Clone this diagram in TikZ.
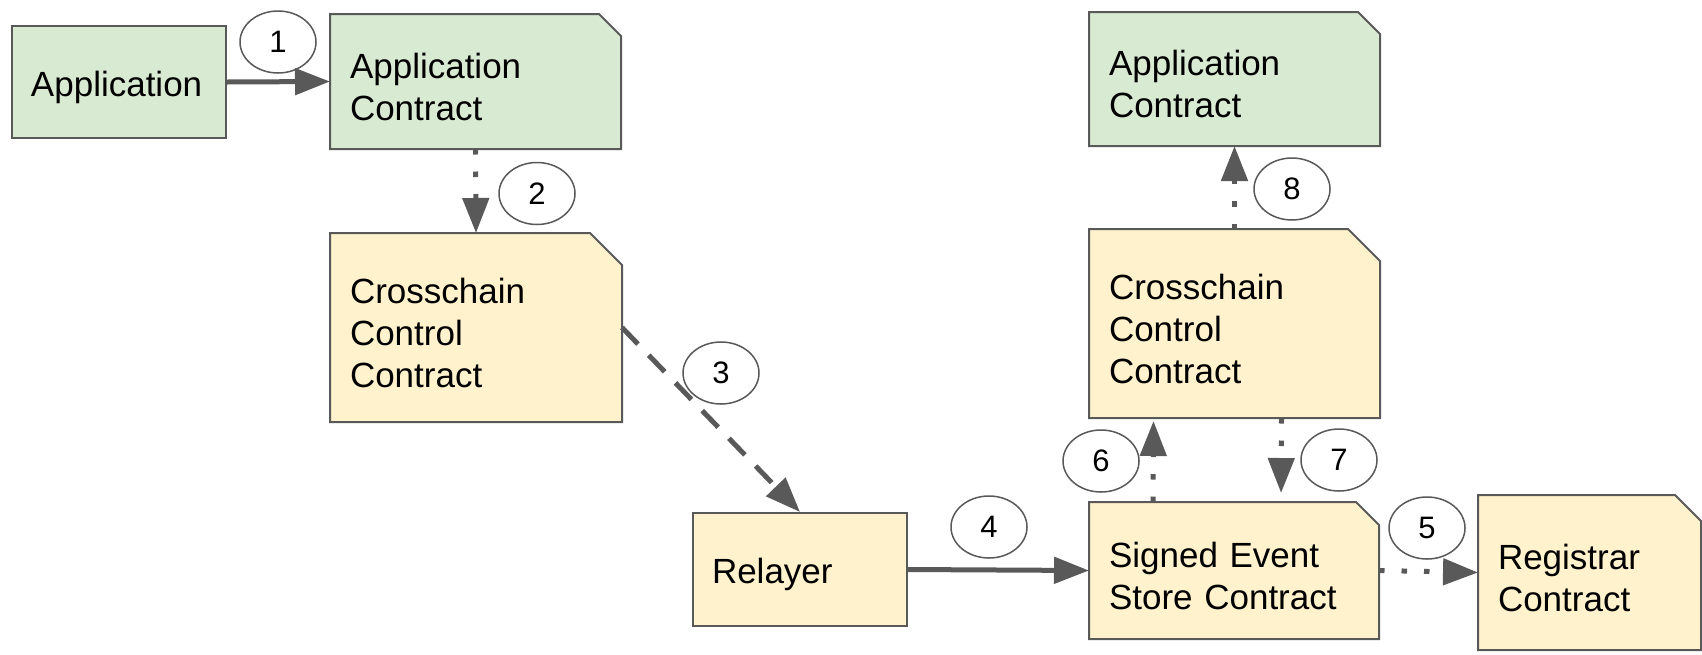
\documentclass[tikz,border=0pt]{standalone}
\usepackage{fontspec}
\setmainfont{Liberation Sans}
\usetikzlibrary{shapes.geometric, arrows.meta, backgrounds}
\definecolor{linegray}{HTML}{595959}
\definecolor{appgreen}{HTML}{D9EAD3}
\definecolor{ctryellow}{HTML}{FFF2CC}
\tikzset{
  blk/.style={rectangle, line width=1pt, inner xsep=9.5pt, inner ysep=0pt, align=left, text height=18pt,
    font=\fontsize{17.5pt}{21pt}\selectfont},
  plain/.style={blk, draw=linegray},
  app/.style={fill=appgreen},
  ctr/.style={fill=ctryellow},
  step num/.style={ellipse, draw=linegray, line width=0.75pt, fill=white, minimum width=38pt,
    minimum height=31pt, inner sep=0pt, font=\fontsize{15.5pt}{17pt}\selectfont}
}
\tikzstyle{arrow} = [draw=linegray, line width=2.5pt, ->]
\tikzstyle{dotarrow} = [arrow, dash pattern=on 2.75pt off 8.5pt]
\tikzstyle{dasharrow} = [arrow, dash pattern=on 11.5pt off 7.75pt]
% box with the top right corner snipped off: node, cut, fill
\newcommand{\snipbox}[3]{%
  \filldraw [#3, draw=linegray, line width=1pt] (#1.south west) -- (#1.north west)
    -- ([xshift=-#2]#1.north east) -- ([yshift=-#2]#1.north east) -- (#1.south east) -- cycle;}
\begin{document}
\begin{tikzpicture}[x=0.5pt, y=-0.5pt, >={Triangle[length=17.5pt,width=13pt]}]
    \useasboundingbox (0,0) rectangle (1702,654);
    % source chain
    \node [plain, app, minimum width=107pt, minimum height=56pt, text width=88pt] (appl) at (119,82) {Application};
    \node [blk, minimum width=144.5pt, minimum height=66.5pt, text width=125.5pt] (srcapp) at (475.5,81.5) {Application\\Contract};
    \node [blk, minimum width=145pt, minimum height=93.5pt, text width=126pt] (srcccc) at (476,327.5) {Crosschain\\Control\\Contract};
    \node [plain, ctr, minimum width=107pt, minimum height=56.5pt, text width=88pt] (relayer) at (800,569.5) {Relayer};
    % destination chain
    \node [blk, minimum width=144pt, minimum height=67.5pt, text width=125pt] (store) at (1234,570.5) {Signed Event\\Store Contract};
    \node [blk, minimum width=110.5pt, minimum height=76.5pt, text width=91.5pt] (registrar) at (1589.5,572.5) {Registrar\\Contract};
    \node [blk, minimum width=144.5pt, minimum height=93.5pt, text width=125.5pt] (dstccc) at (1234.5,323.5) {Crosschain\\Control\\Contract};
    \node [blk, minimum width=144.5pt, minimum height=66pt, text width=125.5pt] (dstapp) at (1234.5,79) {Application\\Contract};

    \begin{scope}[on background layer]
      \snipbox{srcapp}{11pt}{appgreen}
      \snipbox{srcccc}{16pt}{ctryellow}
      \snipbox{store}{11.5pt}{ctryellow}
      \snipbox{registrar}{13pt}{ctryellow}
      \snipbox{dstccc}{16pt}{ctryellow}
      \snipbox{dstapp}{11pt}{appgreen}
    \end{scope}

    % step numbers
    \node [step num] (s1) at (278,42) {1};
    \node [step num] (s2) at (537,193.5) {2};
    \node [step num] (s3) at (721,373) {3};
    \node [step num] (s4) at (989,527) {4};
    \node [step num] (s5) at (1427,528) {5};
    \node [step num] (s6) at (1101,461) {6};
    \node [step num] (s7) at (1339,460) {7};
    \node [step num] (s8) at (1292,189) {8};

    \draw [arrow] (appl.east) -- (srcapp.west);
    \draw [dotarrow] (srcapp.south) -- (srcccc.north);
    \draw [dasharrow] (srcccc.east) -- (relayer.north);
    \draw [arrow] (relayer.east) -- (store.west);
    \draw [dotarrow] (store.east) -- (registrar.west);
    \draw [dotarrow, shorten >=1.5pt] ([xshift=-40.5pt]store.north) -- ([xshift=-40.5pt]dstccc.south);
    \draw [dotarrow, shorten >=4.5pt] ([xshift=23.5pt]dstccc.south) -- ([xshift=23.5pt]store.north);
    \draw [dotarrow] (dstccc.north) -- (dstapp.south);
\end{tikzpicture}
\end{document}
